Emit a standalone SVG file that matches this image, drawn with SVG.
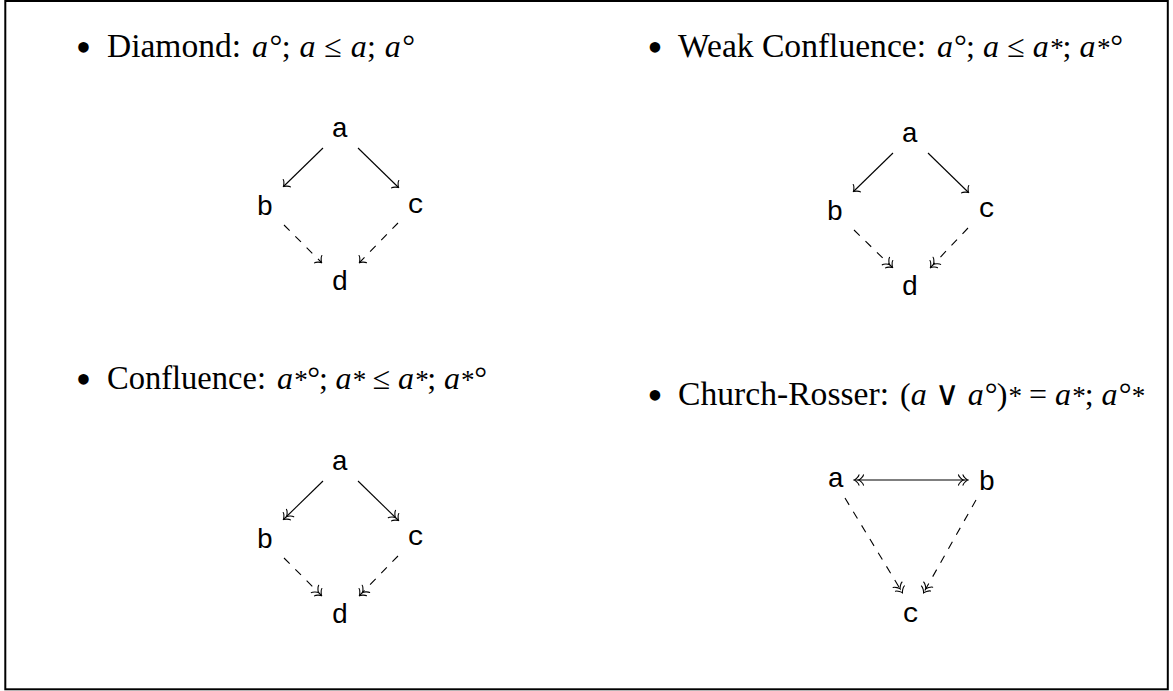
<svg xmlns="http://www.w3.org/2000/svg" width="1173" height="691" viewBox="0 0 1173 691">
<style>
.t{font-family:"Liberation Serif","Times New Roman",serif;font-size:33px;fill:#000}
.mt{font-family:"Liberation Serif","Times New Roman",serif;font-size:32px;font-style:italic;fill:#000}
.u{font-style:normal}
.v{font-style:normal;font-family:"DejaVu Serif","Liberation Serif",serif;font-size:34px}
.sp{font-size:27px}
.b{font-family:"Liberation Serif","Times New Roman",serif;font-size:44px;fill:#000;text-anchor:middle}
.m{font-family:"Liberation Mono","Courier New",monospace;font-size:28px;text-anchor:middle;fill:#000}
.e{fill:none;stroke:#000;stroke-width:1.1}
.d{stroke-dasharray:8 8}
.frame{fill:none;stroke:#000;stroke-width:2}
</style>
<defs>
<marker id="to" markerUnits="userSpaceOnUse" viewBox="-12 -7 14 14" refX="0" refY="0" markerWidth="14" markerHeight="14" orient="auto-start-reverse">
<path d="M-4,5.2 C-3.7,3.2 0,0.3 0.9,0 C0,-0.3 -3.7,-3.2 -4,-5.2" fill="none" stroke="#000" stroke-width="1.1" stroke-dasharray="none" stroke-linecap="round"/>
</marker>
<marker id="too" markerUnits="userSpaceOnUse" viewBox="-12 -7 14 14" refX="0" refY="0" markerWidth="14" markerHeight="14" orient="auto-start-reverse">
<path d="M-4,5.2 C-3.7,3.2 0,0.3 0.9,0 C0,-0.3 -3.7,-3.2 -4,-5.2 M-8.5,5.2 C-8.2,3.2 -4.5,0.3 -3.6,0 C-4.5,-0.3 -8.2,-3.2 -8.5,-5.2" fill="none" stroke="#000" stroke-width="1.1" stroke-dasharray="none" stroke-linecap="round"/>
</marker>
</defs>
<rect class="frame" x="5.3" y="1" width="1162.5" height="688.3"/>

<g id="item-diamond">
<text class="b" x="83.5" y="62">•</text>
<text class="t" x="107" y="57" textLength="134" lengthAdjust="spacingAndGlyphs">Diamond:</text>
<text class="mt" x="252" y="57" textLength="162" lengthAdjust="spacing">a°<tspan class="u">;</tspan> a <tspan class="u">≤</tspan> a<tspan class="u">;</tspan> a°</text>
</g>
<g id="item-weak">
<text class="b" x="655" y="62">•</text>
<text class="t" x="678" y="57" textLength="248" lengthAdjust="spacingAndGlyphs">Weak Confluence:</text>
<text class="mt" x="937" y="57" textLength="185" lengthAdjust="spacing">a°<tspan class="u">;</tspan> a <tspan class="u">≤</tspan> a<tspan class="sp">*</tspan><tspan class="u">;</tspan> a<tspan class="sp">*</tspan>°</text>
</g>
<g id="item-confluence">
<text class="b" x="83.5" y="394">•</text>
<text class="t" x="107" y="389" textLength="159" lengthAdjust="spacingAndGlyphs">Confluence:</text>
<text class="mt" x="277" y="389" textLength="209" lengthAdjust="spacing">a<tspan class="sp">*</tspan>°<tspan class="u">;</tspan> a<tspan class="sp">*</tspan> <tspan class="u">≤</tspan> a<tspan class="sp">*</tspan><tspan class="u">;</tspan> a<tspan class="sp">*</tspan>°</text>
</g>
<g id="item-church-rosser">
<text class="b" x="655" y="410">•</text>
<text class="t" x="678" y="405" textLength="211" lengthAdjust="spacingAndGlyphs">Church-Rosser:</text>
<text class="mt" x="900" y="405" textLength="244" lengthAdjust="spacing"><tspan class="u">(</tspan>a <tspan class="v">∨</tspan> a°<tspan class="u">)</tspan><tspan class="sp">*</tspan> <tspan class="u">=</tspan> a<tspan class="sp">*</tspan><tspan class="u">;</tspan> a°<tspan class="sp">*</tspan></text>
</g>

<g id="connectors">
<line class="e" x1="323" y1="148" x2="284" y2="186" marker-end="url(#to)"/>
<line class="e" x1="358" y1="148" x2="398" y2="187" marker-end="url(#to)"/>
<line class="e d" x1="284" y1="225" x2="321" y2="262" marker-end="url(#to)"/>
<line class="e d" x1="398" y1="223" x2="360" y2="262" marker-end="url(#to)"/>

<line class="e" x1="893" y1="153" x2="854" y2="191" marker-end="url(#to)"/>
<line class="e" x1="928" y1="153" x2="968" y2="192" marker-end="url(#to)"/>
<line class="e d" x1="854" y1="230" x2="892" y2="267" marker-end="url(#too)"/>
<line class="e d" x1="968" y1="228" x2="931" y2="267" marker-end="url(#too)"/>

<line class="e" x1="323" y1="481" x2="284" y2="519" marker-end="url(#too)"/>
<line class="e" x1="358" y1="481" x2="398" y2="520" marker-end="url(#too)"/>
<line class="e d" x1="284" y1="558" x2="321" y2="595" marker-end="url(#too)"/>
<line class="e d" x1="398" y1="556" x2="360" y2="595" marker-end="url(#too)"/>

<line class="e" x1="855" y1="480" x2="967" y2="480" stroke-width="1.5" marker-start="url(#too)" marker-end="url(#too)"/>
<line class="e d" x1="845" y1="498" x2="902" y2="592" marker-end="url(#too)"/>
<line class="e d" x1="976" y1="500" x2="924" y2="592" marker-end="url(#too)"/>
</g>

<g id="node-d1-a"><text class="m" x="340" y="137">a</text></g>
<g id="node-d1-b"><text class="m" x="265" y="215">b</text></g>
<g id="node-d1-c"><text class="m" x="416" y="213">c</text></g>
<g id="node-d1-d"><text class="m" x="340" y="290">d</text></g>

<g id="node-d2-a"><text class="m" x="910" y="142">a</text></g>
<g id="node-d2-b"><text class="m" x="835" y="220">b</text></g>
<g id="node-d2-c"><text class="m" x="987" y="217">c</text></g>
<g id="node-d2-d"><text class="m" x="910" y="295">d</text></g>

<g id="node-d3-a"><text class="m" x="340" y="470">a</text></g>
<g id="node-d3-b"><text class="m" x="265" y="548">b</text></g>
<g id="node-d3-c"><text class="m" x="416" y="545">c</text></g>
<g id="node-d3-d"><text class="m" x="340" y="623">d</text></g>

<g id="node-cr-a"><text class="m" x="836" y="487">a</text></g>
<g id="node-cr-b"><text class="m" x="987" y="490">b</text></g>
<g id="node-cr-c"><text class="m" x="911" y="622">c</text></g>
</svg>
